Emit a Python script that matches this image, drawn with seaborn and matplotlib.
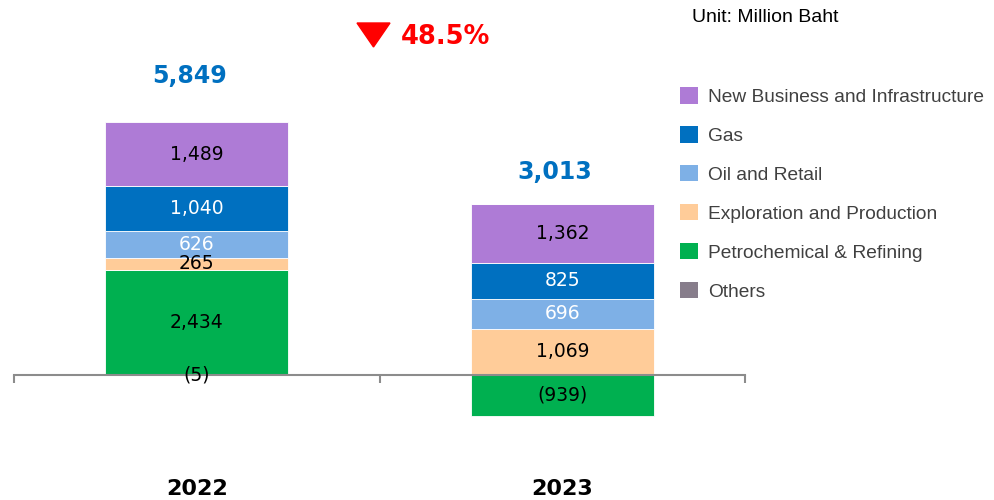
import numpy as np
import matplotlib
matplotlib.use("Agg")
import matplotlib.pyplot as plt
from matplotlib.patches import Patch, Polygon
import seaborn as sns

years = ["2022", "2023"]
segments = ["Petrochemical & Refining", "Exploration and Production", "Oil and Retail",
            "Gas", "New Business and Infrastructure", "Others"]
petro = [2434, -939]
explo = [265, 1069]
oil = [626, 696]
gas = [1040, 825]
new_biz = [1489, 1362]
others = [-5, 0]
legend_order = ["New Business and Infrastructure", "Gas", "Oil and Retail",
                "Exploration and Production", "Petrochemical & Refining", "Others"]
unit_text = "Unit: Million Baht"

colors = {
    "New Business and Infrastructure": "#AE7BD6",
    "Gas": "#0070C0",
    "Oil and Retail": "#7EB0E6",
    "Exploration and Production": "#FFCC99",
    "Petrochemical & Refining": "#00B050",
    "Others": "#877D8B",
}
text_colors = {
    "New Business and Infrastructure": "black",
    "Gas": "white",
    "Oil and Retail": "white",
    "Exploration and Production": "black",
    "Petrochemical & Refining": "black",
    "Others": "black",
}

sns.set_theme(style="white")
plt.rcParams["font.family"] = ["DejaVu Sans"]

fig = plt.figure(figsize=(9.94, 5), dpi=100)
ax = fig.add_axes([14 / 994, 0, 731 / 994, 1])

values = [petro, explo, oil, gas, new_biz, others]
pos_base = np.zeros(len(years))
neg_base = np.zeros(len(years))


def fmt(v):
    if v == 0:
        return ""
    if v < 0:
        return f"({abs(v):,})"
    return f"{v:,}"


for name, vals in zip(segments, values):
    vals = np.array(vals, dtype=float)
    bottom = np.where(vals >= 0, pos_base, neg_base)
    sns.barplot(x=years, y=vals, bottom=bottom, color=colors[name], saturation=1,
                width=0.5, errorbar=None, edgecolor="white", linewidth=0.6, ax=ax)
    ax.bar_label(ax.containers[-1], labels=[fmt(int(v)) for v in vals],
                 label_type="center", color=text_colors[name], fontsize=13.5)
    pos_base = pos_base + np.where(vals >= 0, vals, 0)
    neg_base = neg_base + np.where(vals < 0, vals, 0)

totals = np.sum(values, axis=0)
total_offsets = [33, 23]
for i, (top, tot) in enumerate(zip(pos_base, totals)):
    ax.annotate(f"{int(tot):,}", (i - 0.02, top), xytext=(0, total_offsets[i]),
                textcoords="offset points", ha="center", va="center",
                fontsize=17, fontweight="bold", color="#0070C0")

ax.set_xlim(-0.5, 1.5)
ax.set_ylim(-2890, 8670)
for s in ["top", "right", "left"]:
    ax.spines[s].set_visible(False)
ax.spines["bottom"].set_position(("data", 0))
ax.spines["bottom"].set_color("#8C8C8C")
ax.spines["bottom"].set_linewidth(1.5)
ax.set_xticks([-0.5, 0.5, 1.5])
ax.set_xticklabels([])
ax.tick_params(axis="x", bottom=True, direction="out", length=5.8, width=1.5,
               color="#8C8C8C")
ax.set_yticks([])
ax.set_xlabel("")
ax.set_ylabel("")

for i, yr in enumerate(years):
    ax.text(i, 0.022, yr, transform=ax.get_xaxis_transform(), ha="center", va="center",
            fontsize=16, fontweight="bold", color="black")

# change vs previous year
change = (totals[1] - totals[0]) / totals[0] * 100
tri = Polygon([(357 / 994, 1 - 23 / 500), (390 / 994, 1 - 23 / 500), (373.5 / 994, 1 - 47 / 500)],
              closed=True, color="#FF0000", transform=fig.transFigure)
fig.patches.append(tri)
fig.text(401 / 994, 1 - 37 / 500, f"{abs(change):.1f}%", ha="left", va="center",
         fontsize=18.5, fontweight="bold", color="#FF0000")

fig.text(692 / 994, 1 - 17 / 500, unit_text, ha="left", va="center",
         fontsize=14, family="Liberation Sans", color="black")

handles = [Patch(facecolor=colors[n], edgecolor="none") for n in legend_order]
fig.legend(handles, legend_order, loc="upper left", bbox_to_anchor=(680 / 994, 1 - 87 / 500),
           frameon=False, borderpad=0, borderaxespad=0, handlelength=0.95,
           handleheight=0.95, handletextpad=0.5, labelspacing=1.05,
           prop={"family": "Liberation Sans", "size": 13.8}, labelcolor="#404040")

fig.savefig("out.png", dpi=100)
